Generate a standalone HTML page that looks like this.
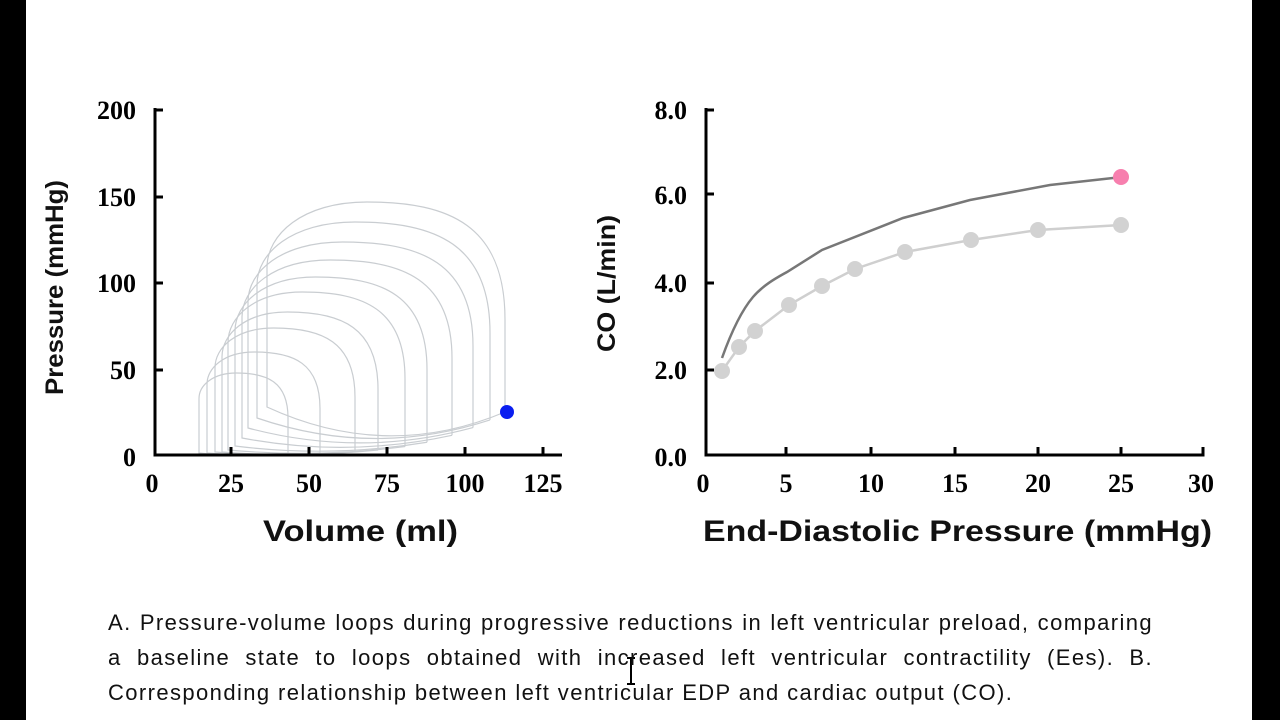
<!DOCTYPE html>
<html><head><meta charset="utf-8"><style>
html,body{margin:0;padding:0;background:#fff;}
body{width:1280px;height:720px;position:relative;overflow:hidden;}
.bar{position:absolute;top:0;height:720px;background:#000;}
.cap{position:absolute;left:108px;top:605px;width:1045px;font-family:"Liberation Sans",sans-serif;font-size:22px;line-height:35px;color:#111;letter-spacing:1.4px;}
.cap div{text-align:justify;text-align-last:justify;white-space:nowrap;}
.cap div.l{text-align-last:left;}
</style></head><body>
<div class="bar" style="left:0;width:26px"></div>
<div class="bar" style="left:1252px;width:28px"></div>
<svg width="1280" height="720" style="position:absolute;left:0;top:0">
<g id="loops" fill="none" stroke="#c9cdd1" stroke-width="1.2"></g>
<g stroke="#000" stroke-width="3" fill="none">
<path d="M155,108 V455 H562"/>
<path d="M155,110 h8 M155,197 h8 M155,283 h8 M155,370 h8"/>
<path d="M231,455 v-8 M309,455 v-8 M387,455 v-8 M465,455 v-8 M543,455 v-8"/>
<path d="M706,108 V455 H1203 V447"/>
<path d="M706,110 h8 M706,194 h8 M706,283 h8 M706,370 h8"/>
<path d="M786,455 v-8 M871,455 v-8 M955,455 v-8 M1038,455 v-8 M1121,455 v-8"/>
</g>
<g font-family="Liberation Serif,serif" font-weight="bold" font-size="26" fill="#000">
<g text-anchor="end"><text x="136" y="119">200</text><text x="136" y="206">150</text><text x="136" y="292">100</text><text x="136" y="379">50</text><text x="136" y="466">0</text>
<text x="687" y="119">8.0</text><text x="687" y="204">6.0</text><text x="687" y="292">4.0</text><text x="687" y="379">2.0</text><text x="687" y="466">0.0</text></g>
<g text-anchor="middle"><text x="152" y="492">0</text><text x="231" y="492">25</text><text x="309" y="492">50</text><text x="387" y="492">75</text><text x="465" y="492">100</text><text x="543" y="492">125</text>
<text x="703" y="492">0</text><text x="786" y="492">5</text><text x="871" y="492">10</text><text x="955" y="492">15</text><text x="1038" y="492">20</text><text x="1121" y="492">25</text><text x="1201" y="492">30</text></g>
</g>
<g font-family="Liberation Sans,sans-serif" font-weight="bold" fill="#111">
<text x="263" y="541" font-size="30" textLength="195" lengthAdjust="spacingAndGlyphs">Volume (ml)</text>
<text x="703" y="541" font-size="30" textLength="509" lengthAdjust="spacingAndGlyphs">End-Diastolic Pressure (mmHg)</text>
<text transform="translate(63,395) rotate(-90)" font-size="25" textLength="215" lengthAdjust="spacingAndGlyphs">Pressure (mmHg)</text>
<text transform="translate(615,352) rotate(-90)" font-size="25" textLength="137" lengthAdjust="spacingAndGlyphs">CO (L/min)</text>
</g>
<polyline fill="none" stroke="#cfcfcf" stroke-width="2.5" points="722,371 739,347 755,331 789,305 822,286 855,269 905,252 971,240 1038,230 1121,225"/>
<g fill="#d2d2d2"><circle cx="722" cy="371" r="8"/><circle cx="739" cy="347" r="8"/><circle cx="755" cy="331" r="8"/><circle cx="789" cy="305" r="8"/><circle cx="822" cy="286" r="8"/><circle cx="855" cy="269" r="8"/><circle cx="905" cy="252" r="8"/><circle cx="971" cy="240" r="8"/><circle cx="1038" cy="230" r="8"/><circle cx="1121" cy="225" r="8"/></g>
<path fill="none" stroke="#777" stroke-width="2.5" d="M722,358 C732,330 742,310 753,297 S780,276 787,272 L822,250 L903,218 L970,200 L1050,185 L1122,177"/>
<circle cx="1121" cy="177" r="8" fill="#f77fae"/>
<circle cx="507" cy="412" r="7" fill="#0a1ef0"/>
<path d="M627,658 h8 M631,658 v26 M627,684 h8" stroke="#000" stroke-width="2"/>
</svg>
<div class="cap"><div>A. Pressure-volume loops during progressive reductions in left ventricular preload, comparing</div><div>a baseline state to loops obtained with increased left ventricular contractility (Ees). B.</div><div class="l">Corresponding relationship between left ventricular EDP and cardiac output (CO).</div></div>
<script>
var R=[505,490,473,452,427,405,378,355,320,288],L=[267,257,248,242,235,228,222,215,207,199],T=[202,222,242,260,277,292,312,328,352,373],BL=[407,418,428,438,446,450,452,452,453,453];
var s="";
for(var i=0;i<10;i++){var r=R[i],l=L[i],t=T[i];var f=(r-288)/(505-288);var br=453-41*Math.pow(f,3);if(i==0)br=412;
var rt=t+0.56*(br-t),lt=t+0.32*(BL[i]-t);var px=l+(r-l)*0.42;
s+='<path d="M'+r+','+br+' V'+rt.toFixed(1)+' C'+r+','+(t+(rt-t)*0.2).toFixed(1)+' '+(px+(r-px)*0.6).toFixed(1)+','+t+' '+px.toFixed(1)+','+t+' C'+(l+(px-l)*0.35).toFixed(1)+','+t+' '+l+','+(t+(lt-t)*0.5).toFixed(1)+' '+l+','+lt.toFixed(1)+' V'+BL[i]+' Q'+((l+r)/2).toFixed(1)+','+(i==0?462:458)+' '+r+','+br+'"/>';}
document.getElementById('loops').innerHTML=s;
</script>
</body></html>
